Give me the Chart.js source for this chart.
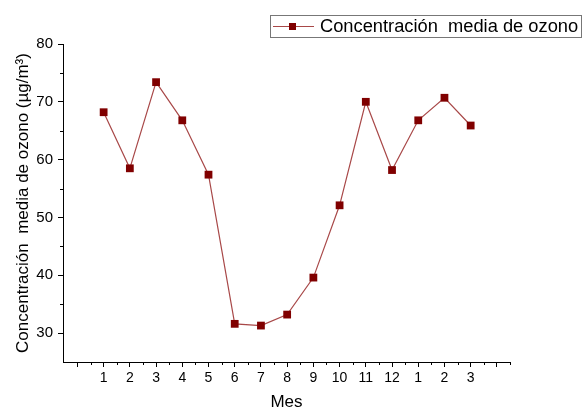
<!DOCTYPE html>
<html>
<head>
<meta charset="utf-8">
<script src="https://cdn.jsdelivr.net/npm/chart.js@4/dist/chart.umd.min.js"></script>
<style>
  html, body { margin: 0; padding: 0; background: #ffffff; }
  #wrap { width: 585px; height: 407px; position: relative; }
</style>
</head>
<body>
<div id="wrap"><canvas id="c" width="585" height="407"></canvas></div>
<script>
// ---- data ----
const monthLabels = ['1','2','3','4','5','6','7','8','9','10','11','12','1','2','3'];
const monthPositions = [1,2,3,4,5,6,7,8,9,10,11,12,13,14,15];
const ozoneValues = [68.2, 58.5, 73.4, 66.8, 57.4, 31.6, 31.3, 33.2, 39.6, 52.1, 70.0, 58.2, 66.8, 70.7, 65.9];
const xMajorTicks = [0,1,2,3,4,5,6,7,8,9,10,11,12,13,14,15,16];
const xMinorTicks = [0.5,1.5,2.5,3.5,4.5,5.5,6.5,7.5,8.5,9.5,10.5,11.5,12.5,13.5,14.5,15.5,16.5];
const yMajorTicks = [30,40,50,60,70,80];
const yMinorTicks = [35,45,55,65,75];
const seriesName = 'Concentración  media de ozono';
const yTitle = 'Concentración  media de ozono (µg/m³)';
const xTitle = 'Mes';

const FONT = '"Liberation Sans", Arial, sans-serif';
const MARK = '#800000';
const LINE = '#a84848';

const minorTicks = {
  id: 'minorTicks',
  afterDraw(chart) {
    const ctx = chart.ctx;
    const xs = chart.scales.x, ys = chart.scales.y;
    ctx.save();
    ctx.strokeStyle = '#000';
    ctx.lineWidth = 1;
    ctx.beginPath();
    xMinorTicks.forEach(v => {
      const px = Math.round(xs.getPixelForValue(v)) + 0.5;
      ctx.moveTo(px, xs.top);
      ctx.lineTo(px, xs.top + 3);
    });
    yMinorTicks.forEach(v => {
      const py = Math.round(ys.getPixelForValue(v)) + 0.5;
      ctx.moveTo(ys.right - 3, py);
      ctx.lineTo(ys.right, py);
    });
    ctx.stroke();
    ctx.restore();
  }
};

const boxLegend = {
  id: 'boxLegend',
  afterDraw(chart) {
    const ctx = chart.ctx;
    const ds = chart.data.datasets[0];
    ctx.save();
    ctx.strokeStyle = '#777';
    ctx.lineWidth = 1;
    ctx.strokeRect(270.5, 15.5, 311, 22);
    ctx.strokeStyle = ds.borderColor;
    ctx.beginPath();
    ctx.moveTo(273, 26.5);
    ctx.lineTo(314, 26.5);
    ctx.stroke();
    ctx.fillStyle = ds.pointBackgroundColor;
    ctx.fillRect(289, 23, 7, 7);
    ctx.fillStyle = '#000';
    ctx.font = '18.3px ' + FONT;
    ctx.textBaseline = 'alphabetic';
    ctx.textAlign = 'left';
    ctx.fillText(ds.label, 320, 32);
    ctx.restore();
  }
};

new Chart(document.getElementById('c'), {
  type: 'line',
  data: {
    datasets: [{
      label: seriesName,
      data: monthPositions.map((x, i) => ({ x: x, y: ozoneValues[i] })),
      borderColor: LINE,
      borderWidth: 1.2,
      pointStyle: 'rect',
      pointRadius: 5.5,
      pointBackgroundColor: MARK,
      pointBorderColor: MARK,
      pointBorderWidth: 0,
      tension: 0,
      fill: false
    }]
  },
  options: {
    responsive: false,
    animation: false,
    events: [],
    layout: { padding: { top: 44, right: 75, left: 0, bottom: 0 } },
    plugins: { legend: { display: false }, tooltip: { enabled: false } },
    scales: {
      x: {
        type: 'linear',
        position: 'bottom',
        min: -0.55,
        max: 16.5,
        afterBuildTicks: s => { s.ticks = xMajorTicks.map(v => ({ value: v })); },
        afterFit: s => { s.height = 45; },
        grid: { drawOnChartArea: false, drawTicks: true, tickLength: 5, tickColor: '#000' },
        border: { display: true, color: '#000', width: 1 },
        ticks: {
          autoSkip: false, maxRotation: 0, color: '#000', padding: 3,
          font: { family: FONT, size: 14 },
          callback: (v) => {
            const i = monthPositions.indexOf(v);
            return i >= 0 ? monthLabels[i] : '';
          }
        },
        title: { display: true, text: xTitle, color: '#000', font: { family: FONT, size: 17, lineHeight: 1 }, padding: { top: 0, bottom: -4 } }
      },
      y: {
        min: 25,
        max: 80,
        afterBuildTicks: s => { s.ticks = yMajorTicks.map(v => ({ value: v })); },
        afterFit: s => { s.width = 63; },
        grid: { drawOnChartArea: false, drawTicks: true, tickLength: 5, tickColor: '#000' },
        border: { display: true, color: '#000', width: 1 },
        ticks: { color: '#000', padding: 5, font: { family: FONT, size: 15 } },
        title: { display: true, text: yTitle, color: '#000', font: { family: FONT, size: 17, lineHeight: 1 }, padding: { top: 14.5, bottom: 0 } }
      }
    }
  },
  plugins: [minorTicks, boxLegend]
});
</script>
</body>
</html>
